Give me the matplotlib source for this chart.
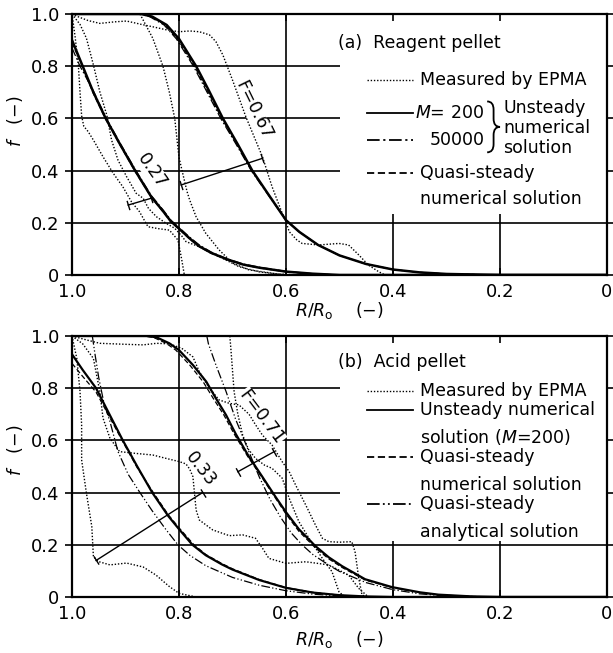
import matplotlib
matplotlib.use('Agg')
import matplotlib.pyplot as plt
from matplotlib.patches import Rectangle, PathPatch
from matplotlib.path import Path

plt.rcParams['font.family'] = ['DejaVu Sans']
plt.rcParams['mathtext.fontset'] = 'dejavusans'

# ---------------- axis ticks ----------------
xticks = [1.0, 0.8, 0.6, 0.4, 0.2, 0.0]
xtick_labels = ['1.0', '0.8', '0.6', '0.4', '0.2', '0']
yticks = [0.0, 0.2, 0.4, 0.6, 0.8, 1.0]
ytick_labels = ['0', '0.2', '0.4', '0.6', '0.8', '1.0']

# ---------------- panel (a) Reagent pellet ----------------
# theoretical, F = 0.27
a27_m200_x = [1.0, 0.98, 0.96, 0.937, 0.91, 0.882, 0.852, 0.83, 0.815, 0.80, 0.78, 0.762, 0.74, 0.71, 0.68, 0.65, 0.60, 0.55, 0.50, 0.40, 0.0]
a27_m200_f = [0.90, 0.80, 0.70, 0.60, 0.50, 0.40, 0.30, 0.245, 0.205, 0.178, 0.14, 0.11, 0.085, 0.06, 0.04, 0.028, 0.013, 0.005, 0.0, 0.0, 0.0]
a27_m50000_x = [1.0, 0.985, 0.96, 0.937, 0.91, 0.882, 0.852, 0.83, 0.815, 0.80, 0.78, 0.762, 0.74, 0.71, 0.68, 0.65, 0.60, 0.55, 0.50]
a27_m50000_f = [0.87, 0.80, 0.705, 0.605, 0.505, 0.405, 0.305, 0.25, 0.21, 0.182, 0.145, 0.115, 0.088, 0.062, 0.042, 0.03, 0.014, 0.005, 0.0]
a27_qs_x = [1.0, 0.98, 0.96, 0.937, 0.91, 0.882, 0.852, 0.83, 0.815, 0.80, 0.78, 0.762, 0.74, 0.71, 0.68, 0.65, 0.60, 0.55, 0.50]
a27_qs_f = [0.89, 0.795, 0.695, 0.597, 0.497, 0.397, 0.298, 0.243, 0.203, 0.176, 0.138, 0.108, 0.083, 0.058, 0.039, 0.027, 0.012, 0.004, 0.0]

# theoretical, F = 0.67
a67_m200_x = [1.0, 0.87, 0.85, 0.823, 0.80, 0.768, 0.745, 0.718, 0.69, 0.663, 0.63, 0.60, 0.575, 0.54, 0.50, 0.45, 0.40, 0.35, 0.30, 0.20, 0.0]
a67_m200_f = [1.0, 1.0, 0.99, 0.958, 0.905, 0.80, 0.71, 0.60, 0.50, 0.40, 0.30, 0.21, 0.165, 0.115, 0.075, 0.042, 0.021, 0.01, 0.004, 0.0, 0.0]
a67_m50000_x = [1.0, 0.875, 0.855, 0.828, 0.805, 0.773, 0.75, 0.722, 0.693, 0.665, 0.631, 0.60, 0.575, 0.54, 0.50, 0.45, 0.40, 0.35, 0.30, 0.20]
a67_m50000_f = [1.0, 1.0, 0.99, 0.958, 0.905, 0.80, 0.71, 0.60, 0.50, 0.40, 0.30, 0.21, 0.165, 0.115, 0.075, 0.042, 0.021, 0.01, 0.004, 0.0]
a67_qs_x = [1.0, 0.872, 0.852, 0.826, 0.803, 0.771, 0.748, 0.72, 0.691, 0.664, 0.63, 0.60, 0.575, 0.54, 0.50, 0.45, 0.40, 0.35, 0.30, 0.20]
a67_qs_f = [1.0, 1.0, 0.99, 0.958, 0.905, 0.80, 0.71, 0.60, 0.50, 0.40, 0.30, 0.21, 0.165, 0.115, 0.075, 0.042, 0.021, 0.01, 0.004, 0.0]

# measured by EPMA (dotted)
a_meas1_x = [1.0, 0.994, 0.988, 0.985, 0.982, 0.978, 0.97, 0.96, 0.942, 0.923, 0.905, 0.889, 0.874, 0.858, 0.84, 0.818, 0.802, 0.795, 0.79, 0.60, 0.40]
a_meas1_f = [1.0, 0.91, 0.80, 0.70, 0.61, 0.57, 0.55, 0.517, 0.453, 0.39, 0.338, 0.281, 0.243, 0.185, 0.178, 0.172, 0.134, 0.06, 0.0, 0.0, 0.0]
a_meas2_x = [1.0, 0.985, 0.973, 0.96, 0.948, 0.935, 0.926, 0.914, 0.898, 0.88, 0.867, 0.857, 0.842, 0.824, 0.808, 0.795, 0.787, 0.762, 0.737, 0.712, 0.688, 0.65, 0.60]
a_meas2_f = [1.0, 0.96, 0.907, 0.805, 0.702, 0.613, 0.517, 0.44, 0.377, 0.313, 0.294, 0.255, 0.223, 0.198, 0.179, 0.15, 0.128, 0.108, 0.083, 0.057, 0.032, 0.012, 0.0]
a_meas3_x = [0.873, 0.849, 0.83, 0.818, 0.808, 0.80, 0.792, 0.785, 0.78, 0.768, 0.75, 0.725, 0.70, 0.67, 0.62, 0.58]
a_meas3_f = [1.0, 0.907, 0.80, 0.70, 0.60, 0.45, 0.38, 0.32, 0.287, 0.223, 0.16, 0.096, 0.046, 0.02, 0.005, 0.0]
a_meas4_x = [1.0, 0.997, 0.97, 0.948, 0.92, 0.898, 0.87, 0.849, 0.825, 0.80, 0.78, 0.762, 0.743, 0.731, 0.718, 0.706, 0.70, 0.675, 0.657, 0.644, 0.626, 0.607, 0.60, 0.594, 0.58, 0.57, 0.539, 0.52, 0.501, 0.483, 0.464, 0.446, 0.427, 0.415]
a_meas4_f = [1.0, 0.996, 0.975, 0.964, 0.97, 0.973, 0.96, 0.951, 0.94, 0.932, 0.935, 0.932, 0.92, 0.894, 0.843, 0.779, 0.747, 0.606, 0.517, 0.453, 0.338, 0.236, 0.204, 0.166, 0.135, 0.121, 0.115, 0.118, 0.121, 0.115, 0.077, 0.038, 0.013, 0.0]

# ---------------- panel (b) Acid pellet ----------------
b33_m200_x = [1.0, 0.98, 0.955, 0.93, 0.905, 0.878, 0.85, 0.82, 0.80, 0.775, 0.75, 0.72, 0.70, 0.65, 0.60, 0.55, 0.50, 0.45, 0.40, 0.0]
b33_m200_f = [0.93, 0.87, 0.80, 0.70, 0.60, 0.50, 0.40, 0.31, 0.26, 0.20, 0.16, 0.125, 0.105, 0.065, 0.035, 0.017, 0.007, 0.002, 0.0, 0.0]
b33_qsn_x = [1.0, 0.98, 0.955, 0.93, 0.905, 0.878, 0.848, 0.82, 0.80, 0.772, 0.75, 0.72, 0.70, 0.65, 0.60, 0.55, 0.50, 0.45]
b33_qsn_f = [0.895, 0.845, 0.785, 0.69, 0.595, 0.495, 0.40, 0.315, 0.265, 0.20, 0.163, 0.128, 0.108, 0.067, 0.036, 0.018, 0.007, 0.0]
b33_qsa_x = [0.962, 0.957, 0.95, 0.94, 0.929, 0.914, 0.895, 0.873, 0.85, 0.825, 0.802, 0.78, 0.75, 0.70, 0.65, 0.60, 0.55, 0.50, 0.45]
b33_qsa_f = [1.0, 0.93, 0.84, 0.74, 0.672, 0.557, 0.47, 0.40, 0.33, 0.26, 0.20, 0.16, 0.12, 0.075, 0.045, 0.024, 0.011, 0.004, 0.0]

b71_m200_x = [1.0, 0.86, 0.842, 0.818, 0.80, 0.774, 0.749, 0.731, 0.712, 0.694, 0.67, 0.644, 0.62, 0.60, 0.576, 0.545, 0.52, 0.495, 0.452, 0.402, 0.35, 0.315, 0.25, 0.20, 0.0]
b71_m200_f = [1.0, 1.0, 0.995, 0.972, 0.946, 0.889, 0.825, 0.761, 0.697, 0.625, 0.54, 0.46, 0.385, 0.325, 0.26, 0.195, 0.152, 0.118, 0.068, 0.038, 0.018, 0.009, 0.002, 0.0, 0.0]
b71_qsn_x = [1.0, 0.866, 0.848, 0.824, 0.806, 0.78, 0.755, 0.736, 0.716, 0.697, 0.672, 0.645, 0.62, 0.60, 0.576, 0.545, 0.52, 0.495, 0.452, 0.402, 0.35, 0.315, 0.25, 0.20]
b71_qsn_f = [1.0, 1.0, 0.995, 0.972, 0.946, 0.889, 0.825, 0.761, 0.697, 0.625, 0.54, 0.458, 0.38, 0.318, 0.252, 0.188, 0.146, 0.113, 0.065, 0.036, 0.017, 0.008, 0.002, 0.0]
b71_qsa_x = [0.748, 0.745, 0.731, 0.712, 0.694, 0.67, 0.65, 0.63, 0.61, 0.59, 0.57, 0.55, 0.52, 0.50, 0.45, 0.40, 0.35, 0.30, 0.25]
b71_qsa_f = [1.0, 0.97, 0.889, 0.787, 0.68, 0.56, 0.46, 0.375, 0.305, 0.245, 0.20, 0.163, 0.122, 0.098, 0.055, 0.028, 0.012, 0.004, 0.0]

b_meas1_x = [1.0, 0.991, 0.985, 0.982, 0.982, 0.973, 0.963, 0.96, 0.951, 0.929, 0.898, 0.867, 0.843, 0.818, 0.80, 0.768, 0.60, 0.45]
b_meas1_f = [1.0, 0.914, 0.787, 0.659, 0.525, 0.397, 0.27, 0.155, 0.136, 0.123, 0.13, 0.115, 0.084, 0.04, 0.014, 0.0, 0.0, 0.0]
b_meas2_x = [1.0, 0.98, 0.96, 0.948, 0.942, 0.929, 0.911, 0.88, 0.849, 0.824, 0.80, 0.787, 0.78, 0.774, 0.768, 0.762, 0.737, 0.706, 0.681, 0.657, 0.644, 0.632, 0.60, 0.563, 0.52, 0.483, 0.464, 0.446, 0.30]
b_meas2_f = [1.0, 0.97, 0.914, 0.787, 0.685, 0.608, 0.557, 0.55, 0.544, 0.531, 0.519, 0.51, 0.49, 0.461, 0.333, 0.295, 0.257, 0.235, 0.238, 0.225, 0.187, 0.148, 0.129, 0.135, 0.123, 0.084, 0.033, 0.0, 0.0]
b_meas3_x = [1.0, 0.973, 0.948, 0.898, 0.867, 0.842, 0.818, 0.795, 0.774, 0.762, 0.743, 0.725, 0.706, 0.688, 0.669, 0.657, 0.644, 0.626, 0.607, 0.594, 0.582, 0.563, 0.545, 0.532, 0.52, 0.50, 0.477, 0.471, 0.464, 0.458, 0.45]
b_meas3_f = [1.0, 0.985, 0.972, 0.968, 0.966, 0.972, 0.97, 0.953, 0.92, 0.863, 0.80, 0.755, 0.742, 0.736, 0.70, 0.66, 0.62, 0.582, 0.518, 0.48, 0.429, 0.352, 0.276, 0.225, 0.212, 0.21, 0.212, 0.174, 0.072, 0.008, 0.0]
b_meas4_x = [0.705, 0.703, 0.697, 0.69, 0.681, 0.67, 0.657, 0.64, 0.626, 0.607, 0.594, 0.576, 0.557, 0.532, 0.514, 0.501, 0.49]
b_meas4_f = [1.0, 0.95, 0.787, 0.70, 0.62, 0.565, 0.531, 0.505, 0.493, 0.455, 0.378, 0.289, 0.225, 0.148, 0.097, 0.02, 0.0]

# ---------------- annotation leaders (data coords) and their end-hook angles ----------------
a_lead67_x = [0.796, 0.644]
a_lead67_f = [0.345, 0.447]
a_lead67_ang = 18
a_brace27_x = [0.895, 0.852]
a_brace27_f = [0.268, 0.294]
a_brace27_ang = 17
b_lead33_x = [0.955, 0.756]
b_lead33_f = [0.14, 0.40]
b_lead33_ang = 32
b_lead71_x = [0.69, 0.622]
b_lead71_f = [0.48, 0.557]
b_lead71_ang = 29

DOT = (0, (1.0, 1.3))
DASH = (0, (4, 2))
DASHDOT = (0, (7, 2, 1.2, 2))
DASHDOTDOT = (0, (7, 1.8, 1, 1.8, 1, 1.8))
FS = 12.5

fig = plt.figure(figsize=(6.13, 6.53), dpi=100)
axA = fig.add_axes([72 / 613, 1 - 275 / 653, 535 / 613, 261 / 653])
axB = fig.add_axes([72 / 613, 1 - 597 / 653, 535 / 613, 261 / 653])


def style(ax, box_bottom, ylab_y, xlab_pad):
    ax.set_xlim(1.0, 0.0)
    ax.set_ylim(0.0, 1.0)
    ax.set_xticks(xticks)
    ax.set_xticklabels(xtick_labels)
    ax.set_yticks(yticks)
    ax.set_yticklabels(ytick_labels)
    for v in xticks[1:-1]:
        ax.axvline(v, color='black', lw=1.2, zorder=1)
    for v in yticks[1:-1]:
        ax.axhline(v, color='black', lw=1.2, zorder=1)
    ax.add_patch(Rectangle((0.5, box_bottom), -0.5, 1.0 - box_bottom,
                           facecolor='white', edgecolor='none', zorder=1.5))
    ax.tick_params(axis='y', left=True, right=True, direction='out', length=5,
                   width=1.2, labelsize=13, pad=4)
    ax.tick_params(axis='x', bottom=True, top=True, direction='in', length=5,
                   width=1.2, labelsize=13, pad=6)
    for s in ax.spines.values():
        s.set_linewidth(1.6)
        s.set_zorder(5)
    ax.set_ylabel(r'$f$   (−)', fontsize=FS)
    ax.yaxis.set_label_coords(-0.088, ylab_y)
    ax.set_xlabel(r'$R/R_\mathrm{o}$    (−)', fontsize=FS, labelpad=xlab_pad)


def leader(ax, xs, fs, ang):
    ax.plot(xs, fs, color='black', lw=1.0, zorder=4)
    ax.plot(xs, fs, ls='none', marker=(2, 0, ang), markersize=7,
            markeredgewidth=1.0, color='black', zorder=4)


def curly_brace(ax, x_open, x_tip, f_top, f_bot):
    xm = (x_open + x_tip) / 2
    fm = (f_top + f_bot) / 2
    d = (f_top - f_bot) * 0.16
    verts = [(x_open, f_top), (xm, f_top), (xm, f_top - d), (xm, fm + d),
             (xm, fm), (x_tip, fm), (xm, fm), (xm, fm - d), (xm, f_bot + d),
             (xm, f_bot), (x_open, f_bot)]
    codes = [Path.MOVETO, Path.CURVE3, Path.CURVE3, Path.LINETO,
             Path.CURVE3, Path.CURVE3, Path.CURVE3, Path.CURVE3, Path.LINETO,
             Path.CURVE3, Path.CURVE3]
    ax.add_patch(PathPatch(Path(verts, codes), facecolor='none',
                           edgecolor='black', lw=1.3, zorder=6))


style(axA, 0.235, 0.59, -1)
style(axB, 0.215, 0.56, 4)

lbl_box = dict(facecolor='white', edgecolor='none', pad=0.3)

# ---- panel (a) curves ----
ax = axA
for xs, fs in [(a_meas1_x, a_meas1_f), (a_meas2_x, a_meas2_f),
               (a_meas3_x, a_meas3_f), (a_meas4_x, a_meas4_f)]:
    ax.plot(xs, fs, color='black', lw=1.0, ls=DOT, zorder=3)
ax.plot(a27_m50000_x, a27_m50000_f, color='black', lw=0.9, ls=DASHDOT, zorder=3)
ax.plot(a27_qs_x, a27_qs_f, color='black', lw=0.9, ls=DASH, zorder=3)
ax.plot(a27_m200_x, a27_m200_f, color='black', lw=1.8, zorder=4)
ax.plot(a67_m50000_x, a67_m50000_f, color='black', lw=0.9, ls=DASHDOT, zorder=3)
ax.plot(a67_qs_x, a67_qs_f, color='black', lw=0.9, ls=DASH, zorder=3)
ax.plot(a67_m200_x, a67_m200_f, color='black', lw=1.8, zorder=4)

leader(ax, a_lead67_x, a_lead67_f, a_lead67_ang)
leader(ax, a_brace27_x, a_brace27_f, a_brace27_ang)
ax.text(0.661, 0.63, 'F=0.67', rotation=-64, fontsize=FS, ha='center', va='center',
        bbox=lbl_box, zorder=2)
ax.text(0.851, 0.40, '0.27', rotation=-55, fontsize=FS, ha='center', va='center',
        bbox=lbl_box, zorder=2)

# legend (a)
LX0, LX1, TX = 0.449, 0.362, 0.350
ax.text(0.503, 0.889, '(a)  Reagent pellet', fontsize=FS, ha='left', va='center', zorder=6)
ax.plot([LX0, LX1], [0.747, 0.747], color='black', lw=1.0, ls=DOT, zorder=6)
ax.text(TX, 0.747, 'Measured by EPMA', fontsize=FS, ha='left', va='center', zorder=6)
ax.plot([LX0, LX1], [0.621, 0.621], color='black', lw=1.3, zorder=6)
ax.plot([LX0, LX1], [0.517, 0.517], color='black', lw=1.3, ls=DASHDOT, zorder=6)
ax.text(0.229, 0.621, r'$M$= 200', fontsize=FS, ha='right', va='center', zorder=6)
ax.text(0.229, 0.517, '50000', fontsize=FS, ha='right', va='center', zorder=6)
curly_brace(ax, 0.224, 0.200, 0.665, 0.470)
ax.text(0.194, 0.640, 'Unsteady', fontsize=FS, ha='left', va='center', zorder=6)
ax.text(0.194, 0.563, 'numerical', fontsize=FS, ha='left', va='center', zorder=6)
ax.text(0.194, 0.487, 'solution', fontsize=FS, ha='left', va='center', zorder=6)
ax.plot([LX0, LX1], [0.391, 0.391], color='black', lw=1.3, ls=DASH, zorder=6)
ax.text(TX, 0.391, 'Quasi-steady', fontsize=FS, ha='left', va='center', zorder=6)
ax.text(TX, 0.291, 'numerical solution', fontsize=FS, ha='left', va='center', zorder=6)

# ---- panel (b) curves ----
ax = axB
for xs, fs in [(b_meas1_x, b_meas1_f), (b_meas2_x, b_meas2_f),
               (b_meas3_x, b_meas3_f), (b_meas4_x, b_meas4_f)]:
    ax.plot(xs, fs, color='black', lw=1.0, ls=DOT, zorder=3)
ax.plot(b33_qsn_x, b33_qsn_f, color='black', lw=0.9, ls=DASH, zorder=3)
ax.plot(b33_qsa_x, b33_qsa_f, color='black', lw=0.9, ls=DASHDOTDOT, zorder=3)
ax.plot(b33_m200_x, b33_m200_f, color='black', lw=1.6, zorder=4)
ax.plot(b71_qsn_x, b71_qsn_f, color='black', lw=0.9, ls=DASH, zorder=3)
ax.plot(b71_qsa_x, b71_qsa_f, color='black', lw=0.9, ls=DASHDOTDOT, zorder=3)
ax.plot(b71_m200_x, b71_m200_f, color='black', lw=1.6, zorder=4)

leader(ax, b_lead33_x, b_lead33_f, b_lead33_ang)
leader(ax, b_lead71_x, b_lead71_f, b_lead71_ang)
ax.text(0.647, 0.69, 'F=0.71', rotation=-53, fontsize=FS, ha='center', va='center',
        bbox=lbl_box, zorder=2)
ax.text(0.759, 0.489, '0.33', rotation=-52, fontsize=FS, ha='center', va='center',
        bbox=lbl_box, zorder=2)

# legend (b)
ax.text(0.503, 0.90, '(b)  Acid pellet', fontsize=FS, ha='left', va='center', zorder=6)
ax.plot([LX0, LX1], [0.789, 0.789], color='black', lw=1.0, ls=DOT, zorder=6)
ax.text(TX, 0.789, 'Measured by EPMA', fontsize=FS, ha='left', va='center', zorder=6)
ax.plot([LX0, LX1], [0.716, 0.716], color='black', lw=1.3, zorder=6)
ax.text(TX, 0.716, 'Unsteady numerical', fontsize=FS, ha='left', va='center', zorder=6)
ax.text(TX, 0.613, r'solution ($M$=200)', fontsize=FS, ha='left', va='center', zorder=6)
ax.plot([LX0, LX1], [0.536, 0.536], color='black', lw=1.3, ls=DASH, zorder=6)
ax.text(TX, 0.536, 'Quasi-steady', fontsize=FS, ha='left', va='center', zorder=6)
ax.text(TX, 0.429, 'numerical solution', fontsize=FS, ha='left', va='center', zorder=6)
ax.plot([LX0, LX1], [0.356, 0.356], color='black', lw=1.3, ls=DASHDOTDOT, zorder=6)
ax.text(TX, 0.356, 'Quasi-steady', fontsize=FS, ha='left', va='center', zorder=6)
ax.text(TX, 0.249, 'analytical solution', fontsize=FS, ha='left', va='center', zorder=6)

fig.savefig('out.png', dpi=100, facecolor='white')
